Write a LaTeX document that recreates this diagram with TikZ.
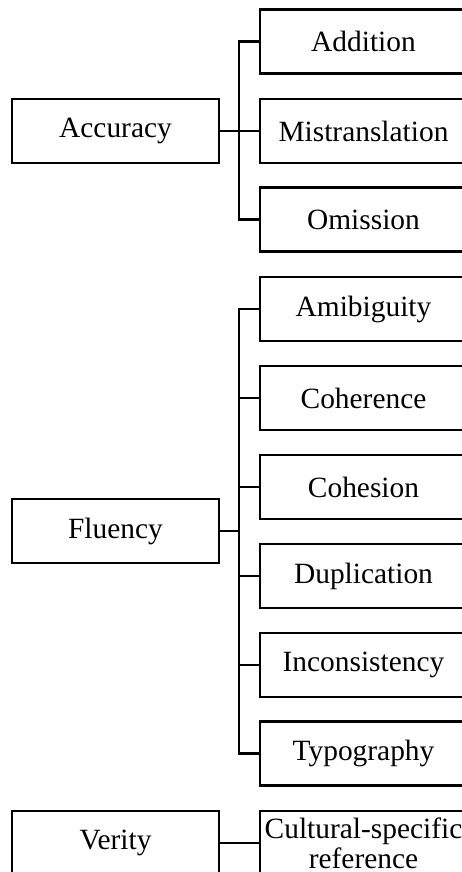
\documentclass[tikz,border=0pt]{standalone}
\usepackage{fontspec}
\setmainfont{Liberation Serif}
\begin{document}
\begin{tikzpicture}[x=1pt,y=-1pt,
  box/.style={draw, line width=2.6pt, minimum width=207pt, minimum height=64pt,
    inner sep=1pt, align=center, font=\fontsize{29.4}{30}\selectfont},
  link/.style={line width=2.6pt}]
\clip (0,0) rectangle (462,872);
\useasboundingbox (0,0) rectangle (462,872);
% categories
\node[box] (acc) at (115.5,131) {Accuracy};
\node[box] (flu) at (115.5,531) {Fluency};
\node[box] (ver) at (115.5,843) {Verity};
% accuracy subtypes
\node[box] (add) at (363.5,41.5) {Addition};
\node[box] (mis) at (363.5,131) {Mistranslation};
\node[box] (omi) at (363.5,219.5) {Omission};
% fluency subtypes
\node[box] (amb) at (363.5,309) {Amibiguity};
\node[box] (coh) at (363.5,398) {Coherence};
\node[box] (chs) at (363.5,487) {Cohesion};
\node[box] (dup) at (363.5,576) {Duplication};
\node[box] (inc) at (363.5,665) {Inconsistency};
\node[box] (typ) at (363.5,753.5) {Typography};
% verity subtype
\node[box] (cul) at (363.5,843) {Cultural-specific\\reference};
% bus connectors
\foreach \c in {add,mis,omi}
  \draw[link] (acc.east) -- (239,0 |- acc.east) |- (\c.west);
\foreach \c in {amb,coh,chs,dup,inc,typ}
  \draw[link] (flu.east) -- (239,0 |- flu.east) |- (\c.west);
\draw[link] (ver.east) -- (cul.west);
\end{tikzpicture}
\end{document}
